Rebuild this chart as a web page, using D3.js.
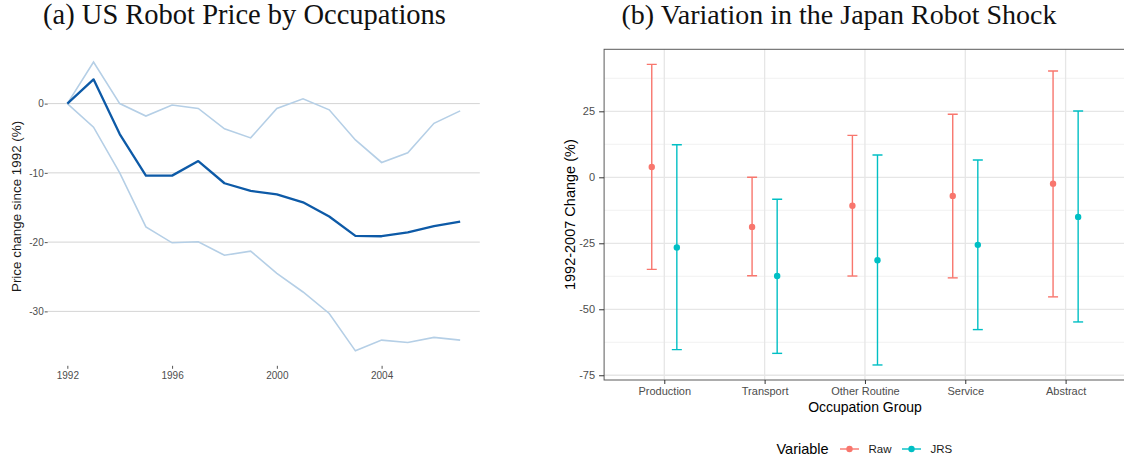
<!DOCTYPE html>
<html>
<head>
<meta charset="utf-8">
<script src="https://cdn.jsdelivr.net/npm/d3@7"></script>
<style>
  html, body { margin: 0; padding: 0; background: #fff; }
  svg { display: block; }
  text { font-family: "Liberation Sans", Arial, sans-serif; }
  .title { font-family: "Liberation Serif", "DejaVu Serif", serif; fill: #111; }
</style>
</head>
<body>
<svg id="chart" width="1124" height="464"></svg>
<script>
// Panel (a): robot price index by year, with upper and lower occupation bounds
const years = [1992, 1993, 1994, 1995, 1996, 1997, 1998, 1999, 2000, 2001, 2002, 2003, 2004, 2005, 2006, 2007];
const priceMean  = [0, 3.5, -4.4, -10.4, -10.4, -8.3, -11.5, -12.6, -13.1, -14.25, -16.3, -19.1, -19.15, -18.6, -17.7, -17.05];
const priceUpper = [0, 6.0, 0.0, -1.8, -0.2, -0.7, -3.65, -4.95, -0.7, 0.7, -0.9, -5.25, -8.5, -7.1, -2.85, -1.05];
const priceLower = [0, -3.4, -10.0, -17.8, -20.1, -19.95, -21.9, -21.3, -24.5, -27.2, -30.3, -35.7, -34.15, -34.5, -33.75, -34.15];
const priceYTicks = [0, -10, -20, -30];
const priceXTicks = [1992, 1996, 2000, 2004];

// Panel (b): 1992-2007 change by occupation group, estimate with interval
const occupations = ["Production", "Transport", "Other Routine", "Service", "Abstract"];
const rawEst = [3.9, -18.8, -10.8, -7.05, -2.4];
const rawLo  = [-34.9, -37.3, -37.4, -38.1, -45.3];
const rawHi  = [42.8, 0.0, 15.9, 23.9, 40.3];
const jrsEst = [-26.6, -37.4, -31.4, -25.6, -15.0];
const jrsLo  = [-65.3, -66.7, -71.1, -57.7, -54.8];
const jrsHi  = [12.35, -8.3, 8.45, 6.55, 25.1];
const variables = ["Raw", "JRS"];
const changeYTicks = [25, 0, -25, -50, -75];

const svg = d3.select("#chart");
// plain hyphen-minus labels
const plain = d => String(d);

// fit a serif title to a target width
function drawTitle(txt, cx, baseline, targetW) {
  const t = svg.append("text").attr("class", "title")
    .attr("x", cx).attr("y", baseline).attr("text-anchor", "middle")
    .attr("font-size", 26).text(txt);
  const w = t.node().getComputedTextLength();
  t.attr("font-size", (26 * targetW / w).toFixed(2));
}
drawTitle("(a) US Robot Price by Occupations", 244.5, 24, 403);
drawTitle("(b) Variation in the Japan Robot Shock", 839, 24, 435);

// ---------- panel (a) ----------
{
  const left = 47.7, right = 479.8, top = 47.6, bottom = 365.3;
  const all = priceMean.concat(priceUpper, priceLower);
  const [lo, hi] = d3.extent(all);
  const padY = (hi - lo) * 0.05;
  const padX = (years[years.length - 1] - years[0]) * 0.05;
  const x = d3.scaleLinear().domain([years[0] - padX, years[years.length - 1] + padX]).range([left, right]);
  const y = d3.scaleLinear().domain([lo - padY, hi + padY]).range([bottom, top]);

  const g = svg.append("g");
  g.selectAll("line.grid").data(priceYTicks).join("line")
    .attr("x1", left).attr("x2", right)
    .attr("y1", d => y(d)).attr("y2", d => y(d))
    .attr("stroke", "#d4d4d4").attr("stroke-width", 1);

  const line = d3.line().x((d, i) => x(years[i])).y(d => y(d));
  [priceUpper, priceLower].forEach(s => {
    g.append("path").datum(s).attr("d", line)
      .attr("fill", "none").attr("stroke", "#b5cfe6").attr("stroke-width", 1.6);
  });
  g.append("path").datum(priceMean).attr("d", line)
    .attr("fill", "none").attr("stroke", "#0d5aa7").attr("stroke-width", 2.3)
    .attr("stroke-linejoin", "round");

  const ya = g.append("g").attr("transform", `translate(${left},0)`)
    .call(d3.axisLeft(y).tickValues(priceYTicks).tickSize(3).tickPadding(1).tickFormat(plain));
  ya.select(".domain").remove();
  ya.selectAll("line").attr("stroke", "#555");
  ya.selectAll("text").attr("font-size", 10).attr("fill", "#4d4d4d").attr("font-family", "Liberation Sans, Arial, sans-serif");

  const xa = g.append("g").attr("transform", `translate(0,${bottom + 0.5})`)
    .call(d3.axisBottom(x).tickValues(priceXTicks).tickSize(3).tickPadding(3).tickFormat(plain));
  xa.select(".domain").remove();
  xa.selectAll("line").attr("stroke", "#555");
  xa.selectAll("text").attr("font-size", 10).attr("fill", "#4d4d4d").attr("font-family", "Liberation Sans, Arial, sans-serif");

  g.append("text").attr("transform", `translate(21,${(top + bottom) / 2}) rotate(-90)`)
    .attr("text-anchor", "middle").attr("font-size", 13.4).attr("fill", "#1a1a1a")
    .text("Price change since 1992 (%)");
}

// ---------- panel (b) ----------
{
  const left = 604.1, right = 1125.8, top = 49.3, bottom = 380;
  const all = rawLo.concat(rawHi, jrsLo, jrsHi);
  const [lo, hi] = d3.extent(all);
  const padY = (hi - lo) * 0.05;
  const x = d3.scalePoint().domain(occupations).range([left, right]).padding(0.6);
  const y = d3.scaleLinear().domain([lo - padY, hi + padY]).range([bottom, top]);
  const color = d3.scaleOrdinal().domain(variables).range(["#F8766D", "#00BFC4"]);
  const dodge = d3.scalePoint().domain(variables).range([-x.step() * 0.125, x.step() * 0.125]);

  const g = svg.append("g");
  g.append("defs").append("clipPath").attr("id", "clipB")
    .append("rect").attr("x", left).attr("y", top).attr("width", right - left).attr("height", bottom - top);

  // minor grid
  const minor = d3.range(-87.5, 60, 25).filter(v => y(v) > top && y(v) < bottom);
  g.selectAll("line.minor").data(minor).join("line")
    .attr("x1", left).attr("x2", right).attr("y1", d => y(d)).attr("y2", d => y(d))
    .attr("stroke", "#ededed").attr("stroke-width", 0.8);
  g.selectAll("line.majorY").data(changeYTicks).join("line")
    .attr("x1", left).attr("x2", right).attr("y1", d => y(d)).attr("y2", d => y(d))
    .attr("stroke", "#e6e6e6").attr("stroke-width", 1.3);
  g.selectAll("line.majorX").data(occupations).join("line")
    .attr("x1", d => x(d)).attr("x2", d => x(d)).attr("y1", top).attr("y2", bottom)
    .attr("stroke", "#e6e6e6").attr("stroke-width", 1.3);

  const rows = [];
  occupations.forEach((o, i) => {
    rows.push({ occ: o, v: "Raw", est: rawEst[i], lo: rawLo[i], hi: rawHi[i] });
    rows.push({ occ: o, v: "JRS", est: jrsEst[i], lo: jrsLo[i], hi: jrsHi[i] });
  });
  const cap = 5;
  const marks = g.append("g").attr("clip-path", "url(#clipB)");
  const grp = marks.selectAll("g.bar").data(rows).join("g")
    .attr("transform", d => `translate(${x(d.occ) + dodge(d.v)},0)`);
  grp.append("line").attr("y1", d => y(d.lo)).attr("y2", d => y(d.hi))
    .attr("stroke", d => color(d.v)).attr("stroke-width", 1.4);
  grp.append("line").attr("x1", -cap).attr("x2", cap).attr("y1", d => y(d.hi)).attr("y2", d => y(d.hi))
    .attr("stroke", d => color(d.v)).attr("stroke-width", 1.4);
  grp.append("line").attr("x1", -cap).attr("x2", cap).attr("y1", d => y(d.lo)).attr("y2", d => y(d.lo))
    .attr("stroke", d => color(d.v)).attr("stroke-width", 1.4);
  grp.append("circle").attr("cy", d => y(d.est)).attr("r", 3.2).attr("fill", d => color(d.v));

  g.append("rect").attr("x", left).attr("y", top).attr("width", right - left).attr("height", bottom - top)
    .attr("fill", "none").attr("stroke", "#5a5a5a").attr("stroke-width", 1);

  const ya = g.append("g").attr("transform", `translate(${left},0)`)
    .call(d3.axisLeft(y).tickValues(changeYTicks).tickSize(5).tickPadding(4).tickFormat(plain));
  ya.select(".domain").remove();
  ya.selectAll("line").attr("stroke", "#333");
  ya.selectAll("text").attr("font-size", 11).attr("fill", "#4d4d4d").attr("font-family", "Liberation Sans, Arial, sans-serif");

  const xa = g.append("g").attr("transform", `translate(0,${bottom})`)
    .call(d3.axisBottom(x).tickSize(4).tickPadding(3));
  xa.select(".domain").remove();
  xa.selectAll("line").attr("stroke", "#333");
  xa.selectAll("text").attr("font-size", 11).attr("fill", "#4d4d4d").attr("font-family", "Liberation Sans, Arial, sans-serif");

  g.append("text").attr("x", (left + right) / 2).attr("y", 412)
    .attr("text-anchor", "middle").attr("font-size", 14).attr("fill", "#000").text("Occupation Group");
  g.append("text").attr("transform", `translate(575,${(top + bottom) / 2}) rotate(-90)`)
    .attr("text-anchor", "middle").attr("font-size", 14.5).attr("fill", "#000").text("1992-2007 Change (%)");

  // legend
  const lg = g.append("g");
  lg.append("text").attr("x", 776.5).attr("y", 454).attr("font-size", 14.5).attr("fill", "#000").text("Variable");
  const keyX = [840, 902];
  variables.forEach((v, i) => {
    const kx = keyX[i];
    lg.append("line").attr("x1", kx).attr("x2", kx + 19).attr("y1", 449).attr("y2", 449)
      .attr("stroke", color(v)).attr("stroke-width", 1.4);
    lg.append("circle").attr("cx", kx + 9.5).attr("cy", 449).attr("r", 3.2).attr("fill", color(v));
    lg.append("text").attr("x", kx + 28.5).attr("y", 453).attr("font-size", 11.5).attr("fill", "#1a1a1a").text(v);
  });
}
</script>
</body>
</html>
